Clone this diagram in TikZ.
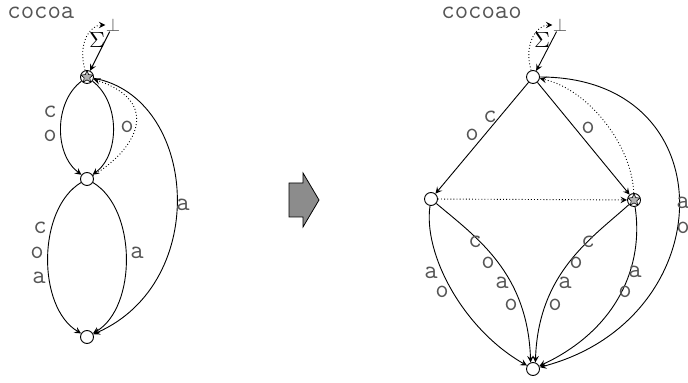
\documentclass[tikz,border=0pt]{standalone}
\usetikzlibrary{shapes.geometric}
\definecolor{txtgray}{RGB}{85,85,85}
\definecolor{arrgray}{RGB}{140,140,140}

\begin{document}
\begin{tikzpicture}[x=0.5pt, y=-0.5pt,
    st/.style={draw, circle, fill=white, minimum size=6.5pt, inner sep=0pt, line width=0.45pt},
    sst/.style={st, path picture={\node[star, star points=5, star point ratio=2.1, draw, fill=gray!60,
                line width=0.3pt, minimum size=6.2pt, inner sep=0pt] at (path picture bounding box.center) {};}},
    lbl/.style={font=\ttfamily\fontsize{13}{14}\selectfont, text=txtgray, inner sep=0pt},
    arr/.style={->, >=stealth, line width=0.45pt},
    sarr/.style={arr, dash pattern=on 0.45pt off 1.1pt}
]
\useasboundingbox (0,0) rectangle (688,383);
% left: cocoa
\node[lbl, anchor=west] (w1) at (7,13) {cocoa};
\node[sst] (r1) at (87,77) {};
\node[st]  (m1) at (87,179) {};
\node[st]  (f1) at (87,337) {};
\node[text=txtgray, inner sep=0pt, font=\fontsize{9}{9}\selectfont] (bot1) at (113,25) {$\perp$};
\node[inner sep=0pt, font=\fontsize{11}{11}\selectfont] (sig1) at (97,40) {$\Sigma$};
\draw[arr] (bot1) -- (r1);
\draw[sarr] (r1) .. controls +(-10,-35) and +(-22,0) .. (bot1);
\draw[arr] (r1) .. controls +(-33,25) and +(-33,-25) .. (m1);
\draw[arr] (r1) .. controls +(33,25) and +(33,-25) .. (m1);
\draw[sarr] (m1) .. controls +(50,-30) and +(75,25) .. (r1);
\draw[arr] (r1) .. controls +(110,20) and +(125,-55) .. (f1);
\draw[arr] (m1) .. controls +(-50,30) and +(-50,-30) .. (f1);
\draw[arr] (m1) .. controls +(50,30) and +(50,-30) .. (f1);
\foreach \t/\x/\y [count=\i] in {c/50/112, o/50/136, o/127/127, c/40/228, o/37/253, a/39/278, a/137/253, a/183/205}
  \node[lbl] (la\i) at (\x,\y) {\t};

% block arrow
\draw[fill=arrgray, line width=0.4pt] (289,183) -- (303,183) -- (303,173) -- (319,200)
  -- (303,227) -- (303,217) -- (289,217) -- cycle;

% right: cocoao
\node[lbl, anchor=west] (w2) at (441,13) {cocoao};
\node[st]  (r2) at (533,77) {};
\node[st]  (p2) at (431,199) {};
\node[sst] (q2) at (634,200) {};
\node[st]  (f2) at (533,369) {};
\node[text=txtgray, inner sep=0pt, font=\fontsize{9}{9}\selectfont] (bot2) at (560,25) {$\perp$};
\node[inner sep=0pt, font=\fontsize{11}{11}\selectfont] (sig2) at (542,40) {$\Sigma$};
\draw[arr] (bot2) -- (r2);
\draw[sarr] (r2) .. controls +(-10,-35) and +(-22,0) .. (bot2);
\draw[arr] (r2) -- (p2);
\draw[arr] (r2) -- (q2);
\draw[sarr] (q2) .. controls +(-2,-55) and +(55,12) .. (r2);
\draw[sarr] (p2) -- (q2);
\draw[arr] (r2) .. controls +(195,0) and +(190,-50) .. (f2);
\draw[arr] (p2) .. controls +(-8,55) and +(-70,-40) .. (f2);
\draw[arr] (p2) .. controls +(45,38) and +(-3,-90) .. (f2.110);
\draw[arr] (q2) .. controls +(-42,38) and +(3,-90) .. (f2.70);
\draw[arr] (q2) .. controls +(10,65) and +(85,-40) .. (f2);
\foreach \t/\x/\y [count=\i] in {c/490/117, o/472/135, o/588/128, a/683/203, o/683/228,
    a/431/273, o/442/292, c/475/242, o/488/263, a/502/283, o/511/305,
    c/588/242, o/576/263, a/565/283, o/555/305, a/635/272, o/625/292}
  \node[lbl] (lb\i) at (\x,\y) {\t};
\end{tikzpicture}
\end{document}
